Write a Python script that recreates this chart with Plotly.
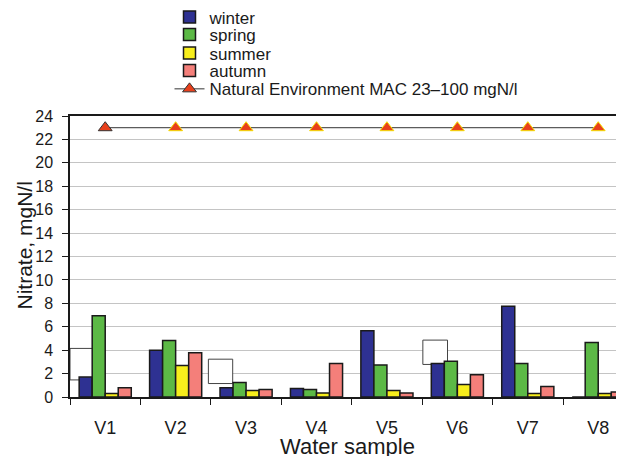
import plotly.graph_objects as go

samples = ["V1", "V2", "V3", "V4", "V5", "V6", "V7", "V8"]
winter = [1.7, 4.0, 0.8, 0.72, 5.66, 2.86, 7.75, 0.0]
spring = [6.94, 4.83, 1.23, 0.63, 2.74, 3.06, 2.86, 4.66]
summer = [0.29, 2.69, 0.55, 0.34, 0.55, 1.06, 0.29, 0.29]
autumn = [0.8, 3.77, 0.63, 2.86, 0.34, 1.89, 0.89, 0.43]
mac = [23, 23, 23, 23, 23, 23, 23, 23]

FONT = "Liberation Sans, Arial, sans-serif"
colors = {"winter": "#2e3192", "spring": "#5cb946", "summer": "#f7ee1c", "autumn": "#f47f7a"}

fig = go.Figure()
legend_ids = ["legend", "legend2", "legend3", "legend4", "legend5"]
for i, (name, vals) in enumerate([("winter", winter), ("spring", spring), ("summer", summer), ("autumn", autumn)]):
    fig.add_trace(go.Bar(
        x=samples, y=vals, name=name, legend=legend_ids[i],
        marker=dict(color=colors[name], line=dict(color="#1a1a1a", width=1.5)),
    ))

fig.add_trace(go.Scatter(
    x=samples, y=mac, mode="lines+markers", legend=legend_ids[4],
    name="Natural Environment MAC 23\u2013100 mgN/l",
    line=dict(color="#333333", width=1),
    marker=dict(symbol="triangle-up", size=12, color="#e8401c",
                line=dict(color=["#333333"] + ["#f5e000"] * 7, width=1)),
))

# empty label boxes present in the original picture
for (x0, x1, y0, y1) in [(-0.5, -0.166, 1.46, 4.15), (1.465, 1.81, 1.15, 3.23), (4.51, 4.86, 2.78, 4.86)]:
    fig.add_shape(type="rect", xref="x", yref="y", x0=x0, x1=x1, y0=y0, y1=y1,
                  line=dict(color="#444444", width=1), fillcolor="white", layer="between")

# page body adds an 8px offset; figure coordinates = window coordinates - 8
OFF = 8
W, H = 624 - OFF, 456 - OFF
PLOT_LEFT, PLOT_TOP, PLOT_BOTTOM = 70 - OFF, 116 - OFF, 397 - OFF
PLOT_W = W - PLOT_LEFT

def ypix(p_window):
    p = p_window - OFF
    return (PLOT_BOTTOM - p) / (PLOT_BOTTOM - PLOT_TOP)

def xpix(p_window):
    return (p_window - OFF - PLOT_LEFT) / PLOT_W

legend_rows = [17.5, 35, 53.5, 71, 89.3]
leg_common = dict(xref="paper", yref="paper", x=xpix(169.5), xanchor="left", yanchor="middle",
                  font=dict(size=17, family=FONT, color="#1a1a1a"),
                  bgcolor="rgba(0,0,0,0)", itemwidth=30)
legends = {lid: dict(leg_common, y=ypix(r)) for lid, r in zip(legend_ids, legend_rows)}

fig.update_layout(
    width=W, height=H,
    margin=dict(l=PLOT_LEFT, r=0, t=PLOT_TOP, b=H - PLOT_BOTTOM, autoexpand=False),
    paper_bgcolor="white", plot_bgcolor="white",
    font=dict(family=FONT, color="#1a1a1a", size=15),
    barmode="group", bargap=0.26, bargroupgap=0,
    showlegend=True,
    xaxis=dict(
        type="category", range=[-0.5, 7.366],
        showline=True, linecolor="#1a1a1a", linewidth=1.5, mirror=True,
        ticks="outside", tickson="boundaries", ticklen=6, tickcolor="#1a1a1a",
        tickfont=dict(size=18), ticklabelstandoff=14, tickangle=0,
        showgrid=False, zeroline=False,
    ),
    yaxis=dict(
        range=[0, 24], dtick=2, tick0=0,
        showline=True, linecolor="#1a1a1a", linewidth=1.5,
        ticks="outside", ticklen=6, tickcolor="#1a1a1a",
        tickfont=dict(size=16), ticklabelstandoff=6,
        showgrid=True, gridcolor="#c4c4c4", gridwidth=1, zeroline=False,
    ),
    annotations=[
        dict(text="Nitrate, mgN/l", xref="paper", yref="paper", x=xpix(23.5), y=ypix(246),
             xanchor="center", yanchor="middle", textangle=-90, showarrow=False,
             font=dict(size=21)),
        dict(text="Water sample", xref="paper", yref="paper", x=0.5, y=ypix(446.5),
             xanchor="center", yanchor="middle", showarrow=False,
             font=dict(size=22)),
    ],
    **legends,
)

fig.write_html("out.html")
